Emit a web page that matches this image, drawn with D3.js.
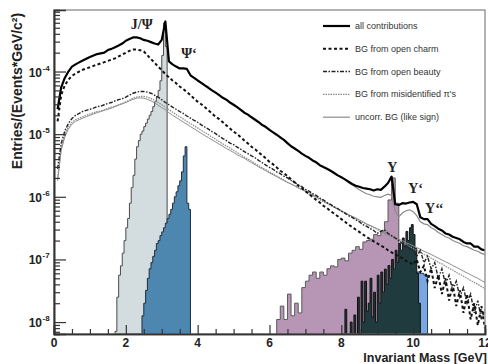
<!DOCTYPE html>
<html>
<head>
<meta charset="utf-8">
<script src="https://cdn.jsdelivr.net/npm/d3@7"></script>
<style>
  body { margin: 0; background: #fff; }
  svg { display: block; font-family: "Liberation Sans", Arial, sans-serif; }
</style>
</head>
<body>
<svg id="chart" width="488" height="364"></svg>
<script>
// mass grid for the background curves (GeV), 0.1 .. 12.0
const mass = d3.range(1, 121).map(i => i / 10);

const allContributions = [
  2.5e-5, 5.6e-5, 7.9e-5, 1.0e-4, 1.2e-4, 1.3e-4, 1.4e-4, 1.5e-4, 1.6e-4, 1.7e-4,
  1.8e-4, 1.9e-4, 1.95e-4, 2.0e-4, 2.2e-4, 2.3e-4, 2.45e-4, 2.6e-4, 2.8e-4, 3.1e-4,
  3.3e-4, 3.5e-4, 3.5e-4, 3.4e-4, 3.2e-4, 3.1e-4, 2.95e-4, 2.8e-4, 2.7e-4, 3.2e-4,
  6.3e-4, 1.45e-4, 1.3e-4, 1.2e-4, 1.12e-4, 1.12e-4, 1.1e-4, 8.7e-5, 7.9e-5, 7.2e-5,
  6.6e-5, 6.0e-5, 5.5e-5, 5.0e-5, 4.6e-5, 4.2e-5, 3.8e-5, 3.55e-5, 3.2e-5, 2.95e-5,
  2.7e-5, 2.45e-5, 2.2e-5, 2.05e-5, 1.86e-5, 1.7e-5, 1.55e-5, 1.4e-5, 1.3e-5, 1.17e-5,
  1.07e-5, 9.8e-6, 8.9e-6, 8.1e-6, 7.2e-6, 6.4e-6, 5.9e-6, 5.4e-6, 4.9e-6, 4.5e-6,
  4.2e-6, 3.8e-6, 3.55e-6, 3.2e-6, 3.0e-6, 2.8e-6, 2.6e-6, 2.4e-6, 2.2e-6, 2.05e-6,
  1.9e-6, 1.74e-6, 1.6e-6, 1.5e-6, 1.45e-6, 1.38e-6, 1.35e-6, 1.32e-6, 1.26e-6, 1.32e-6,
  1.29e-6, 1.45e-6, 1.66e-6, 2.1e-6, 7.6e-7, 7.4e-7, 7.9e-7, 7.8e-7, 8.1e-7, 8.3e-7,
  7.6e-7, 4.7e-7, 4.4e-7, 4.4e-7, 3.7e-7, 3.4e-7, 3.1e-7, 2.9e-7, 2.6e-7, 2.5e-7,
  2.3e-7, 2.2e-7, 2.1e-7, 1.9e-7, 1.8e-7, 1.8e-7, 1.6e-7, 1.6e-7, 1.45e-7, 1.4e-7
];

const openCharm = [
  1.6e-5, 4.2e-5, 6.0e-5, 7.4e-5, 8.5e-5, 9.3e-5, 1.0e-4, 1.07e-4, 1.12e-4, 1.17e-4,
  1.23e-4, 1.29e-4, 1.35e-4, 1.41e-4, 1.48e-4, 1.55e-4, 1.62e-4, 1.74e-4, 1.86e-4, 2.0e-4,
  2.14e-4, 2.24e-4, 2.24e-4, 2.19e-4, 2.09e-4, 1.82e-4, 1.58e-4, 1.38e-4, 1.2e-4, 1.05e-4,
  9.1e-5, 8.1e-5, 7.2e-5, 6.5e-5, 5.75e-5, 5.25e-5, 4.7e-5, 4.2e-5, 3.7e-5, 3.3e-5,
  3.0e-5, 2.7e-5, 2.4e-5, 2.14e-5, 1.9e-5, 1.74e-5, 1.55e-5, 1.38e-5, 1.23e-5, 1.1e-5,
  1.0e-5, 8.9e-6, 7.9e-6, 7.1e-6, 6.3e-6, 5.75e-6, 5.1e-6, 4.6e-6, 4.1e-6, 3.6e-6,
  3.3e-6, 2.95e-6, 2.6e-6, 2.4e-6, 2.14e-6, 1.9e-6, 1.7e-6, 1.5e-6, 1.38e-6, 1.23e-6,
  1.1e-6, 1.0e-6, 8.9e-7, 8.1e-7, 7.2e-7, 6.6e-7, 5.9e-7, 5.4e-7, 4.9e-7, 4.4e-7,
  4.0e-7, 3.6e-7, 3.3e-7, 3.0e-7, 2.75e-7, 2.5e-7, 2.3e-7, 2.1e-7, 1.95e-7, 1.8e-7,
  1.66e-7, 1.55e-7, 1.4e-7, 1.3e-7, 1.2e-7, 1.12e-7, 1.05e-7, 9.5e-8, 8.9e-8, 8.3e-8,
  1.0e-7, 6.3e-8, 7.9e-8, 4.5e-8, 7.1e-8, 3.5e-8, 5.6e-8, 2.8e-8, 5.0e-8, 2.2e-8,
  4.0e-8, 1.8e-8, 3.2e-8, 1.4e-8, 2.8e-8, 1.1e-8, 2.0e-8, 8.9e-9, 1.8e-8, 7.9e-9
];

const openBeauty = [
  2.8e-6, 7.1e-6, 1.12e-5, 1.48e-5, 1.78e-5, 2.0e-5, 2.14e-5, 2.3e-5, 2.4e-5, 2.5e-5,
  2.6e-5, 2.75e-5, 2.8e-5, 2.95e-5, 3.1e-5, 3.2e-5, 3.4e-5, 3.55e-5, 3.7e-5, 3.9e-5,
  4.2e-5, 4.5e-5, 4.7e-5, 4.8e-5, 4.8e-5, 4.7e-5, 4.5e-5, 4.2e-5, 3.9e-5, 3.55e-5,
  3.2e-5, 2.95e-5, 2.7e-5, 2.5e-5, 2.3e-5, 2.14e-5, 1.95e-5, 1.8e-5, 1.66e-5, 1.55e-5,
  1.41e-5, 1.3e-5, 1.2e-5, 1.1e-5, 1.02e-5, 9.3e-6, 8.5e-6, 7.9e-6, 7.2e-6, 6.8e-6,
  6.2e-6, 5.75e-6, 5.25e-6, 4.9e-6, 4.5e-6, 4.2e-6, 3.8e-6, 3.5e-6, 3.2e-6, 2.95e-6,
  2.75e-6, 2.5e-6, 2.35e-6, 2.14e-6, 2.0e-6, 1.82e-6, 1.7e-6, 1.55e-6, 1.45e-6, 1.32e-6,
  1.23e-6, 1.12e-6, 1.05e-6, 9.5e-7, 8.9e-7, 8.1e-7, 7.6e-7, 6.9e-7, 6.5e-7, 5.9e-7,
  5.5e-7, 5.0e-7, 4.7e-7, 4.3e-7, 4.0e-7, 3.6e-7, 3.4e-7, 3.1e-7, 2.9e-7, 2.6e-7,
  2.8e-7, 3.0e-7, 2.6e-7, 2.4e-7, 2.2e-7, 2.0e-7, 1.8e-7, 1.66e-7, 1.5e-7, 1.38e-7,
  1.12e-7, 1.4e-7, 8.9e-8, 1.12e-7, 7.1e-8, 8.9e-8, 5.0e-8, 7.1e-8, 4.0e-8, 5.6e-8,
  3.2e-8, 4.5e-8, 2.5e-8, 3.55e-8, 2.0e-8, 2.8e-8, 1.4e-8, 2.2e-8, 1.1e-8, 1.6e-8
];

const misidentifiedPi = [
  2.0e-6, 6.0e-6, 9.8e-6, 1.3e-5, 1.55e-5, 1.7e-5, 1.8e-5, 1.9e-5, 2.0e-5, 2.1e-5,
  2.2e-5, 2.3e-5, 2.35e-5, 2.45e-5, 2.6e-5, 2.7e-5, 2.8e-5, 2.95e-5, 3.1e-5, 3.3e-5,
  3.5e-5, 3.75e-5, 3.9e-5, 4.0e-5, 4.0e-5, 3.9e-5, 3.7e-5, 3.45e-5, 3.2e-5, 2.95e-5,
  2.7e-5, 2.45e-5, 2.25e-5, 2.05e-5, 1.9e-5, 1.75e-5, 1.6e-5, 1.48e-5, 1.36e-5, 1.26e-5,
  1.15e-5, 1.06e-5, 9.8e-6, 9.0e-6, 8.3e-6, 7.6e-6, 7.0e-6, 6.5e-6, 6.0e-6, 5.5e-6,
  5.1e-6, 4.7e-6, 4.3e-6, 4.0e-6, 3.7e-6, 3.4e-6, 3.15e-6, 2.9e-6, 2.7e-6, 2.5e-6,
  2.3e-6, 2.15e-6, 2.0e-6, 1.85e-6, 1.7e-6, 1.6e-6, 1.5e-6, 1.38e-6, 1.3e-6, 1.2e-6,
  1.1e-6, 1.05e-6, 9.6e-7, 9.0e-7, 8.3e-7, 7.8e-7, 7.2e-7, 6.8e-7, 6.3e-7, 5.9e-7,
  5.5e-7, 5.1e-7, 4.8e-7, 4.5e-7, 4.2e-7, 3.9e-7, 3.65e-7, 3.4e-7, 3.2e-7, 3.0e-7,
  2.8e-7, 2.6e-7, 2.45e-7, 2.3e-7, 2.15e-7, 2.0e-7, 1.85e-7, 1.75e-7, 1.6e-7, 1.5e-7,
  1.4e-7, 1.3e-7, 1.2e-7, 1.15e-7, 1.05e-7, 9.8e-8, 9.0e-8, 8.5e-8, 7.8e-8, 7.2e-8,
  6.8e-8, 6.2e-8, 5.8e-8, 5.4e-8, 5.0e-8, 4.6e-8, 4.3e-8, 4.0e-8, 3.7e-8, 3.4e-8
];

const uncorrLikeSign = [
  1.8e-6, 5.5e-6, 9.0e-6, 1.2e-5, 1.45e-5, 1.6e-5, 1.7e-5, 1.8e-5, 1.9e-5, 2.0e-5,
  2.1e-5, 2.2e-5, 2.3e-5, 2.4e-5, 2.5e-5, 2.6e-5, 2.75e-5, 2.9e-5, 3.05e-5, 3.2e-5,
  3.4e-5, 3.6e-5, 3.75e-5, 3.8e-5, 3.75e-5, 3.6e-5, 3.4e-5, 3.15e-5, 2.9e-5, 2.65e-5,
  2.45e-5, 2.2e-5, 2.0e-5, 1.85e-5, 1.7e-5, 1.56e-5, 1.44e-5, 1.32e-5, 1.22e-5, 1.12e-5,
  1.03e-5, 9.5e-6, 8.8e-6, 8.1e-6, 7.5e-6, 6.9e-6, 6.4e-6, 5.9e-6, 5.5e-6, 5.1e-6,
  4.7e-6, 4.4e-6, 4.1e-6, 3.8e-6, 3.5e-6, 3.25e-6, 3.0e-6, 2.8e-6, 2.6e-6, 2.4e-6,
  2.25e-6, 2.1e-6, 1.95e-6, 1.82e-6, 1.7e-6, 1.6e-6, 1.5e-6, 1.4e-6, 1.32e-6, 1.25e-6,
  1.16e-6, 1.08e-6, 1.0e-6, 9.3e-7, 8.6e-7, 8.0e-7, 7.4e-7, 6.9e-7, 6.4e-7, 6.0e-7,
  5.6e-7, 5.2e-7, 4.9e-7, 4.6e-7, 4.3e-7, 4.0e-7, 3.7e-7, 3.5e-7, 3.3e-7, 3.1e-7,
  2.9e-7, 2.7e-7, 2.55e-7, 2.4e-7, 2.25e-7, 2.1e-7, 2.0e-7, 1.85e-7, 1.75e-7, 1.65e-7,
  1.55e-7, 1.45e-7, 1.35e-7, 1.28e-7, 1.2e-7, 1.12e-7, 1.05e-7, 9.8e-8, 9.2e-8, 8.6e-8,
  8.0e-8, 7.5e-8, 7.0e-8, 6.5e-8, 6.1e-8, 5.7e-8, 5.3e-8, 5.0e-8, 4.6e-8, 4.3e-8
];

// thin grey background sum visible just under the total at high mass (8.2 .. 12.0 GeV)
const bgSumMass = d3.range(82, 121).map(i => i / 10);
const bgSum = [
  1.7e-6, 1.55e-6, 1.42e-6, 1.3e-6, 1.2e-6, 1.12e-6, 1.08e-6, 1.02e-6, 1.0e-6, 9.8e-7,
  1.05e-6, 1.1e-6, 1.05e-6, 6.0e-7, 4.8e-7, 5.5e-7, 6.0e-7, 6.2e-7, 5.8e-7, 5.0e-7,
  4.0e-7, 3.7e-7, 3.6e-7, 3.2e-7, 3.0e-7, 2.7e-7, 2.5e-7, 2.3e-7, 2.2e-7, 2.0e-7,
  1.9e-7, 1.8e-7, 1.65e-7, 1.6e-7, 1.5e-7, 1.4e-7, 1.35e-7, 1.25e-7, 1.2e-7
];

// signal histograms: first bin edge, bin width, contents
const jpsiStart = 1.70, jpsiWidth = 0.05;
const jpsiHist = [
  7.1e-9, 2.5e-8, 5.6e-8, 7.9e-8, 1.26e-7, 2.0e-7, 3.2e-7, 4.5e-7, 7.9e-7, 1.4e-6,
  2.2e-6, 4.0e-6, 6.3e-6, 7.9e-6, 1.0e-5, 1.12e-5, 1.32e-5, 1.5e-5, 1.74e-5, 2.0e-5,
  2.3e-5, 2.75e-5, 3.3e-5, 4.0e-5, 5.0e-5, 7.1e-5, 1.8e-4, 6.0e-4, 2.5e-4
];

const psiPrimeStart = 2.45, psiPrimeWidth = 0.05;
const psiPrimeHist = [
  1.26e-8, 2.0e-8, 3.2e-8, 5.0e-8, 7.1e-8, 8.9e-8, 1.12e-7, 1.4e-7, 1.8e-7, 2.0e-7,
  2.4e-7, 2.75e-7, 3.2e-7, 3.8e-7, 4.5e-7, 5.25e-7, 6.3e-7, 7.9e-7, 1.0e-6, 1.2e-6,
  1.5e-6, 1.8e-6, 2.5e-6, 4.5e-6, 6.3e-6, 7.9e-7, 6.3e-7
];

const upsStart = 6.2, upsWidth = 0.1;
const upsHist = [
  1.1e-8, 1.8e-8, 1.1e-8, 2.8e-8, 1.26e-8, 2.0e-8, 1.4e-8, 3.55e-8, 4.5e-8, 5.6e-8,
  6.3e-8, 5.0e-8, 6.3e-8, 5.6e-8, 7.1e-8, 7.9e-8, 7.6e-8, 1.0e-7, 1.05e-7, 9.5e-8,
  1.26e-7, 1.4e-7, 1.6e-7, 1.45e-7, 1.9e-7, 2.0e-7, 2.1e-7, 2.5e-7, 2.4e-7, 2.8e-7,
  4.0e-7, 8.9e-7, 2.0e-6, 7.9e-7
];

const upsPrimeStart = 8.0, upsPrimeWidth = 0.05;
const upsPrimeHist = [
  6.0e-9, 6.0e-9, 1.6e-8, 6.0e-9, 6.0e-9, 1.0e-8, 6.0e-9, 1.3e-8, 6.0e-9, 2.5e-8,
  6.0e-9, 4.5e-8, 1.0e-8, 4.5e-8, 1.5e-8, 2.0e-8, 5.0e-8, 1.2e-8, 3.0e-8, 1.0e-8,
  5.6e-8, 2.0e-8, 6.3e-8, 3.0e-8, 7.0e-8, 4.0e-8, 8.0e-8, 5.0e-8, 1.0e-7, 7.0e-8,
  1.4e-7, 9.0e-8, 1.8e-7, 1.4e-7, 2.2e-7, 1.6e-7, 2.8e-7, 2.0e-7, 3.2e-7, 3.6e-7,
  2.5e-7, 1.5e-7, 6.0e-8, 2.0e-8
];

const ups2Start = 9.1, ups2Width = 0.1;
const ups2Hist = [
  1.26e-8, 1.6e-8, 2.0e-8, 2.5e-8, 3.2e-8, 4.0e-8, 4.5e-8, 5.0e-8, 5.0e-8, 5.6e-8,
  6.3e-8, 6.0e-8, 5.6e-8
];

const xTicks = [0, 2, 4, 6, 8, 10, 12];
const yDecades = [1e-8, 1e-7, 1e-6, 1e-5, 1e-4];
const legendLabels = [
  "all contributions",
  "BG from open charm",
  "BG from open beauty",
  "BG from misidentified \u03c0's",
  "uncorr. BG (like sign)"
];

const svg = d3.select("#chart");
const plotL = 54, plotR = 485, plotT = 10, plotB = 334;

const x = d3.scaleLinear().domain([0, 12]).range([plotL, plotR]);
const y = d3.scaleLog().domain([6.45e-9, 9.6e-4]).range([plotB, plotT]).clamp(true);

svg.append("clipPath").attr("id", "clip")
  .append("rect").attr("x", plotL).attr("y", plotT)
  .attr("width", plotR - plotL).attr("height", plotB - plotT);
const inner = svg.append("g").attr("clip-path", "url(#clip)");

function drawHist(start, width, values, fill, stroke) {
  const pts = values.map((v, i) => [start + i * width, v]);
  pts.push([start + values.length * width, values[values.length - 1]]);
  const area = d3.area()
    .x(d => x(d[0]))
    .y0(plotB)
    .y1(d => y(d[1]))
    .curve(d3.curveStepAfter);
  inner.append("path")
    .attr("d", area(pts))
    .attr("fill", fill)
    .attr("stroke", stroke)
    .attr("stroke-width", 1);
}

drawHist(jpsiStart, jpsiWidth, jpsiHist, "#d3dcdf", "#4a4a4a");
drawHist(psiPrimeStart, psiPrimeWidth, psiPrimeHist, "#4d86ae", "#1f2f3c");
drawHist(upsStart, upsWidth, upsHist, "#b795b4", "#5a5a5a");
drawHist(ups2Start, ups2Width, ups2Hist, "#7aa7e2", "#2a3a55");
drawHist(upsPrimeStart, upsPrimeWidth, upsPrimeHist, "#1f3b3e", "#111");

const line = d3.line().x((d, i) => x(mass[i])).y(d => y(d));

inner.append("path").attr("d", line(uncorrLikeSign))
  .attr("fill", "none").attr("stroke", "#8c8c8c").attr("stroke-width", 1);
inner.append("path").attr("d", line(misidentifiedPi))
  .attr("fill", "none").attr("stroke", "#8a8a8a").attr("stroke-width", 1.2)
  .attr("stroke-dasharray", "1.5,1");
inner.append("path").attr("d", line(openBeauty))
  .attr("fill", "none").attr("stroke", "#222").attr("stroke-width", 1.4)
  .attr("stroke-dasharray", "4,1.5,1.5,1.5");
inner.append("path").attr("d", line(openCharm))
  .attr("fill", "none").attr("stroke", "#111").attr("stroke-width", 2)
  .attr("stroke-dasharray", "3,2.5");
inner.append("path")
  .attr("d", d3.line().x((d, i) => x(bgSumMass[i])).y(d => y(d))(bgSum))
  .attr("fill", "none").attr("stroke", "#8a8a8a").attr("stroke-width", 1.2);
inner.append("path").attr("d", line(allContributions))
  .attr("fill", "none").attr("stroke", "#000").attr("stroke-width", 2.2)
  .attr("stroke-linejoin", "round");

// frame
svg.append("rect")
  .attr("x", plotL).attr("y", plotT).attr("width", plotR - plotL).attr("height", plotB - plotT)
  .attr("fill", "none").attr("stroke", "#8a8a8a").attr("stroke-width", 1.3);

// y axis: decade and minor ticks pointing inwards
const yMinor = y.ticks().filter(v => !yDecades.some(d => Math.abs(v / d - 1) < 1e-6));
const yAxisMinor = d3.axisLeft(y).tickValues(yMinor).tickSize(-6).tickFormat("");
const yAxisMajor = d3.axisLeft(y).tickValues(yDecades).tickSize(-12).tickFormat("");
[yAxisMinor, yAxisMajor].forEach(ax => {
  const g = svg.append("g").attr("transform", `translate(${plotL},0)`).call(ax);
  g.selectAll("line").attr("stroke", "#333").attr("stroke-width", 1.2);
  g.select(".domain").attr("stroke", "#333").attr("stroke-width", 1.6);
});

// x axis
const xMinor = d3.range(1, 24).map(i => i / 2).filter(v => v % 2 !== 0);
const xAxisMinor = d3.axisBottom(x).tickValues(xMinor).tickSize(-5).tickFormat("");
const xAxisMajor = d3.axisBottom(x).tickValues(xTicks).tickSize(-9).tickFormat("");
[xAxisMinor, xAxisMajor].forEach(ax => {
  const g = svg.append("g").attr("transform", `translate(0,${plotB})`).call(ax);
  g.selectAll("line").attr("stroke", "#333").attr("stroke-width", 1.2);
  g.select(".domain").attr("stroke", "#333").attr("stroke-width", 1.6);
});

// tick labels
svg.selectAll(".xlab").data(xTicks).join("text")
  .attr("x", d => x(d)).attr("y", 347)
  .attr("text-anchor", "middle")
  .attr("font-size", 12).attr("font-weight", "bold").attr("fill", "#222")
  .text(d => d);

const ylab = svg.selectAll(".ylab").data(yDecades).join("g");
ylab.append("text")
  .attr("x", 42).attr("y", d => y(d) + 5)
  .attr("text-anchor", "end")
  .attr("font-size", 12).attr("font-weight", "bold").attr("fill", "#222")
  .text("10");
ylab.append("text")
  .attr("x", 42.5).attr("y", d => y(d) - 1)
  .attr("font-size", 8).attr("font-weight", "bold").attr("fill", "#222")
  .text(d => "-" + Math.round(-Math.log10(d)));

// axis titles
svg.append("text")
  .attr("transform", "translate(22,91) rotate(-90)")
  .attr("text-anchor", "middle")
  .attr("font-size", 14).attr("font-weight", "bold").attr("fill", "#222")
  .text("Entries/(Events*GeV/c\u00b2)");
svg.append("text")
  .attr("x", 487).attr("y", 362)
  .attr("text-anchor", "end")
  .attr("font-size", 12.5).attr("font-weight", "bold").attr("fill", "#222")
  .text("Invariant Mass [GeV]");

// resonance labels, placed at (mass, value) of their baseline start
const serif = "'Liberation Serif', 'DejaVu Serif', serif";
const resLabels = [
  { t: "J/\u03a8", m: 2.14, v: 4.8e-4, s: 14 },
  { t: "\u03a8\u2018", m: 3.54, v: 1.65e-4, s: 14 },
  { t: "\u03a5", m: 9.28, v: 2.5e-6, s: 14 },
  { t: "\u03a5\u2018", m: 9.86, v: 1.15e-6, s: 14 },
  { t: "\u03a5\u2018\u2018", m: 10.33, v: 5.5e-7, s: 14 }
];
svg.selectAll(".res").data(resLabels).join("text")
  .attr("x", d => x(d.m)).attr("y", d => y(d.v))
  .attr("text-anchor", "start")
  .attr("font-family", serif).attr("font-weight", "bold")
  .attr("font-size", d => d.s).attr("fill", "#222")
  .text(d => d.t);

// legend
const legendStyles = [
  { stroke: "#000", w: 2.2, dash: null },
  { stroke: "#111", w: 2, dash: "3,2.5" },
  { stroke: "#222", w: 1.5, dash: "4,1.5,1.5,1.5" },
  { stroke: "#8a8a8a", w: 1.2, dash: "1.5,1" },
  { stroke: "#8c8c8c", w: 1.2, dash: null }
];
const leg = svg.append("g");
legendLabels.forEach((lab, i) => {
  const ly = 26 + i * 22.8;
  const st = legendStyles[i];
  leg.append("line")
    .attr("x1", 323).attr("x2", 350).attr("y1", ly).attr("y2", ly)
    .attr("stroke", st.stroke).attr("stroke-width", st.w)
    .attr("stroke-dasharray", st.dash);
  leg.append("text")
    .attr("x", 355).attr("y", ly + 3)
    .attr("font-size", 9).attr("fill", "#333")
    .text(lab);
});
</script>
</body>
</html>
